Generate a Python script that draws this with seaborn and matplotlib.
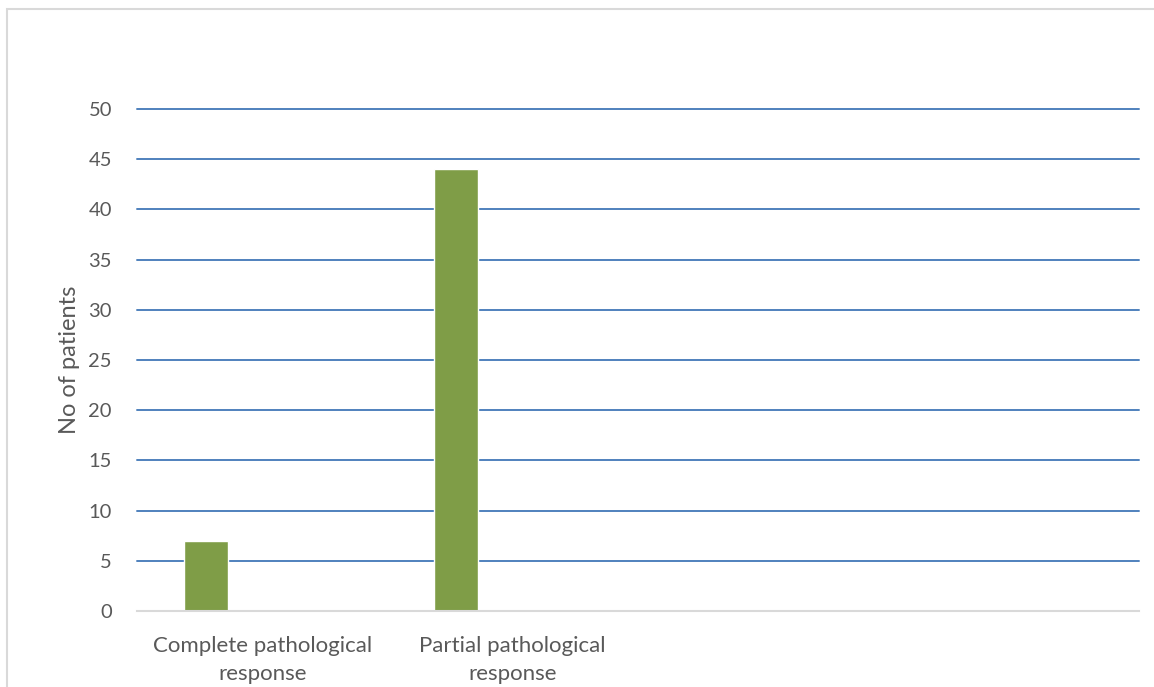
import pandas as pd
import matplotlib.pyplot as plt
import seaborn as sns
from matplotlib.patches import Rectangle

# Data (n = 51)
categories = ["Complete pathological\nresponse", "Partial pathological\nresponse", " ", "  "]
patients = [7, 44]
y_ticks = list(range(0, 55, 5))

df = pd.DataFrame({"Response": categories[:2], "Patients": patients})

sns.set_theme(style="white")
plt.rcParams["font.family"] = ["Lato", "DejaVu Sans"]

fig = plt.figure(figsize=(11.54, 6.87), dpi=100)
ax = fig.add_axes([0.1187, 0.1106, 0.8683, 0.7307])

sns.barplot(data=df, x="Response", y="Patients", order=categories,
            color="#7F9D47", saturation=1, width=0.175, ax=ax)

# Excel clustered layout puts the bar left of the category centre
for p in ax.patches:
    p.set_x(p.get_x() - 0.225)

ax.set_xlim(-0.5, len(categories) - 0.5)
ax.set_ylim(0, 50)
ax.set_yticks(y_ticks)
ax.set_yticklabels([str(t) for t in y_ticks])

# blue horizontal gridlines, grey baseline
for t in y_ticks[1:]:
    ax.axhline(t, color="#4F81BD", lw=1.4, zorder=0, clip_on=False)
ax.set_axisbelow(True)
for s in ["top", "right", "left"]:
    ax.spines[s].set_visible(False)
ax.spines["bottom"].set_color("#D9D9D9")
ax.spines["bottom"].set_linewidth(1.5)

ax.tick_params(axis="both", length=0, colors="#595959")
ax.tick_params(axis="y", pad=18, labelsize=14.5)
ax.tick_params(axis="x", pad=18, labelsize=16)
for lbl in ax.get_xticklabels():
    lbl.set_linespacing(1.5)

ax.set_xlabel("")
ax.set_ylabel("No of patients", fontsize=17, color="#595959", labelpad=6)

# light grey chart-area frame running off the page
fig.patches.append(Rectangle((7 / 1154, -0.1), 1.2, 1 - 9 / 687 + 0.1,
                             transform=fig.transFigure, fill=False,
                             edgecolor="#D9D9D9", lw=1.5))

plt.savefig("out.png", dpi=100)
